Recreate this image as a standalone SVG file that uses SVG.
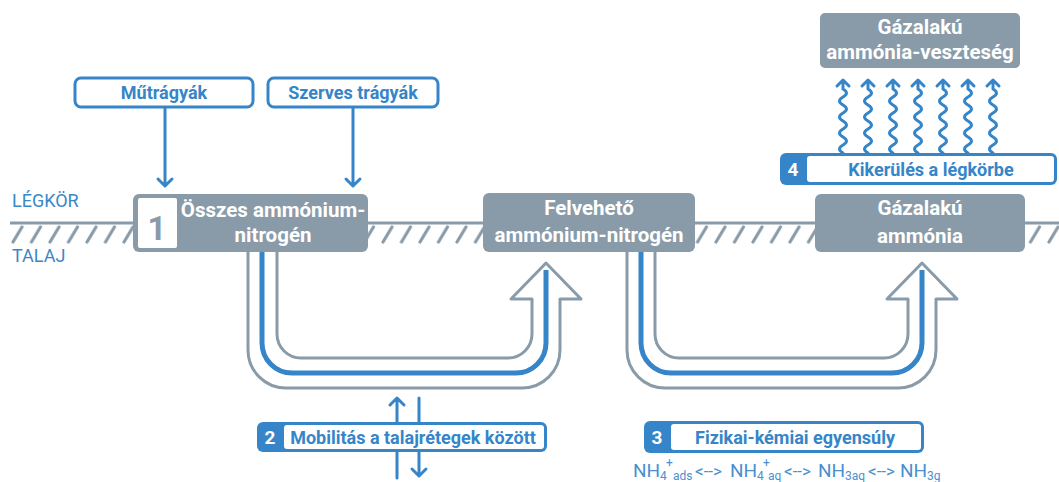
<svg xmlns="http://www.w3.org/2000/svg" width="1059" height="482" viewBox="0 0 1059 482">
<style>
.node{fill:#899ba8}
.nt{font-family:Roboto,"Liberation Sans",sans-serif;font-weight:700;font-size:20.5px;fill:#fff;text-anchor:middle}
.bt{font-family:Roboto,"Liberation Sans",sans-serif;font-weight:700;font-size:18px;fill:#3585c8;text-anchor:middle}
.num{font-family:Roboto,"Liberation Sans",sans-serif;font-weight:700;font-size:19px;fill:#fff;text-anchor:middle}
.lbl{font-family:Roboto,"Liberation Sans",sans-serif;font-weight:400;font-size:18px;fill:#3a87c8}
.ol{fill:none;stroke:#899ba8;stroke-width:3;stroke-linejoin:round;stroke-linecap:round}
.bl{fill:none;stroke:#3585c8;stroke-width:5}
.ar{fill:none;stroke:#3585c8;stroke-width:3;stroke-linecap:round;stroke-linejoin:round}
.fm{font-family:Roboto,"Liberation Sans",sans-serif;font-weight:400;font-size:19px;fill:#4a90d0}
.fa{font-family:Roboto,"Liberation Sans",sans-serif;font-weight:400;font-size:17px;fill:#4a90d0}
.fs{font-family:Roboto,"Liberation Sans",sans-serif;font-weight:400;font-size:12px;fill:#4a90d0}
</style>
<defs>
<pattern id="hatch" x="10" y="224" width="18.5" height="20" patternUnits="userSpaceOnUse">
<line x1="3" y1="18" x2="12" y2="3" stroke="#899ba8" stroke-width="3.2" stroke-linecap="round"/>
</pattern>
</defs>
<rect width="1059" height="482" fill="#fff"/>

<g id="ground">
<line x1="10" y1="223" x2="1059" y2="223" stroke="#899ba8" stroke-width="3"/>
<rect x="10" y="224" width="1049" height="20" fill="url(#hatch)"/>
<text class="lbl" x="12" y="207">LÉGKÖR</text>
<text class="lbl" x="12" y="262">TALAJ</text>
</g>

<g id="connectors">
<path class="ol" d="M248,251 V350 A38,38 0 0 0 286,388 H522 A38,38 0 0 0 560,350 V299 H581 L546,263 L511,299 H532 V334 A24,24 0 0 1 508,358 H301 A24,24 0 0 1 277,334 V251"/>
<path class="bl" d="M262,251 V343 A30,30 0 0 0 292,373 H516 A30,30 0 0 0 546,343 V270"/>
<path class="ol" d="M627,251 V350 A38,38 0 0 0 665,388 H898 A38,38 0 0 0 936,350 V299 H957 L922,263 L887,299 H908 V334 A24,24 0 0 1 884,358 H679 A24,24 0 0 1 655,334 V251"/>
<path class="bl" d="M641,251 V343 A30,30 0 0 0 671,373 H892 A30,30 0 0 0 922,343 V270"/>
<path class="ar" d="M165,108 V186 M158,179 L165,186 L172,179"/>
<path class="ar" d="M353,108 V186 M346,179 L353,186 L360,179"/>
<path class="ar" d="M397,478 V398 M390,405 L397,398 L404,405"/>
<path class="ar" d="M419,398 V476 M412,469 L419,476 L426,469"/>
<g id="waves">
<path class="ar" d="M843,153 q-7,-4 0,-8 q7,-4 0,-8 q-7,-4 0,-8 q7,-4 0,-8 q-7,-4 0,-8 q7,-4 0,-8 q-7,-4 0,-8 q7,-4 0,-8 V80 M837,86 L843,80 L849,86"/>
<path class="ar" d="M868,153 q-7,-4 0,-8 q7,-4 0,-8 q-7,-4 0,-8 q7,-4 0,-8 q-7,-4 0,-8 q7,-4 0,-8 q-7,-4 0,-8 q7,-4 0,-8 V80 M862,86 L868,80 L874,86"/>
<path class="ar" d="M893,153 q-7,-4 0,-8 q7,-4 0,-8 q-7,-4 0,-8 q7,-4 0,-8 q-7,-4 0,-8 q7,-4 0,-8 q-7,-4 0,-8 q7,-4 0,-8 V80 M887,86 L893,80 L899,86"/>
<path class="ar" d="M918,153 q-7,-4 0,-8 q7,-4 0,-8 q-7,-4 0,-8 q7,-4 0,-8 q-7,-4 0,-8 q7,-4 0,-8 q-7,-4 0,-8 q7,-4 0,-8 V80 M912,86 L918,80 L924,86"/>
<path class="ar" d="M943,153 q-7,-4 0,-8 q7,-4 0,-8 q-7,-4 0,-8 q7,-4 0,-8 q-7,-4 0,-8 q7,-4 0,-8 q-7,-4 0,-8 q7,-4 0,-8 V80 M937,86 L943,80 L949,86"/>
<path class="ar" d="M968,153 q-7,-4 0,-8 q7,-4 0,-8 q-7,-4 0,-8 q7,-4 0,-8 q-7,-4 0,-8 q7,-4 0,-8 q-7,-4 0,-8 q7,-4 0,-8 V80 M962,86 L968,80 L974,86"/>
<path class="ar" d="M993,153 q-7,-4 0,-8 q7,-4 0,-8 q-7,-4 0,-8 q7,-4 0,-8 q-7,-4 0,-8 q7,-4 0,-8 q-7,-4 0,-8 q7,-4 0,-8 V80 M987,86 L993,80 L999,86"/>
</g>
</g>

<g id="node-osszes">
<rect class="node" x="133" y="194" width="235" height="58" rx="6"/>
<rect x="138" y="198" width="39" height="50" rx="2" fill="#fff"/>
<text x="157" y="240" font-family="Roboto,'Liberation Sans',sans-serif" font-weight="700" font-size="33" fill="#899ba8" text-anchor="middle">1</text>
<text class="nt" x="273" y="217">Összes ammónium-</text>
<text class="nt" x="273" y="242">nitrogén</text>
</g>

<g id="node-felveheto">
<rect class="node" x="483" y="193" width="212" height="59" rx="6"/>
<text class="nt" x="589" y="215">Felvehető</text>
<text class="nt" x="589" y="242">ammónium-nitrogén</text>
</g>

<g id="node-gazalaku">
<rect class="node" x="815" y="194" width="210" height="58" rx="6"/>
<text class="nt" x="920" y="215">Gázalakú</text>
<text class="nt" x="920" y="243">ammónia</text>
</g>

<g id="node-veszteseg">
<rect class="node" x="820" y="13" width="200" height="55" rx="5"/>
<text class="nt" x="920" y="34">Gázalakú</text>
<text class="nt" x="920" y="59">ammónia-veszteség</text>
</g>

<g id="node-mutragyak">
<rect x="75" y="78" width="178" height="29" rx="6" fill="#fff" stroke="#3585c8" stroke-width="3"/>
<text class="bt" x="164" y="99">Műtrágyák</text>
</g>

<g id="node-szerves">
<rect x="268" y="78" width="170" height="29" rx="6" fill="#fff" stroke="#3585c8" stroke-width="3"/>
<text class="bt" x="353" y="99">Szerves trágyák</text>
</g>

<g id="node-kikerules">
<rect x="780" y="153" width="277" height="32" rx="6" fill="#3585c8"/>
<rect x="807" y="156" width="247" height="26" rx="3" fill="#fff"/>
<text class="num" x="793" y="176">4</text>
<text class="bt" x="931" y="176">Kikerülés a légkörbe</text>
</g>

<g id="node-mobilitas">
<rect x="257" y="422" width="290" height="30" rx="6" fill="#3585c8"/>
<rect x="284" y="425" width="260" height="24" rx="3" fill="#fff"/>
<text class="num" x="270" y="444">2</text>
<text class="bt" x="413" y="444">Mobilitás a talajrétegek között</text>
</g>

<g id="node-fizikai">
<rect x="644" y="421" width="280" height="32" rx="6" fill="#3585c8"/>
<rect x="671" y="424" width="250" height="26" rx="3" fill="#fff"/>
<text class="num" x="657" y="444">3</text>
<text class="bt" x="795" y="444">Fizikai-kémiai egyensúly</text>
</g>

<g id="formula">
<text class="fm" x="633" y="477">NH</text>
<text class="fs" x="660" y="480">4</text>
<text class="fs" x="666" y="467">+</text>
<text class="fs" x="673" y="480">ads</text>
<text class="fa" x="695" y="477">&lt;--&gt;</text>
<text class="fm" x="730" y="477">NH</text>
<text class="fs" x="757" y="480">4</text>
<text class="fs" x="763" y="467">+</text>
<text class="fs" x="768" y="480">aq</text>
<text class="fa" x="784" y="477">&lt;--&gt;</text>
<text class="fm" x="818" y="477">NH</text>
<text class="fs" x="845" y="480">3aq</text>
<text class="fa" x="868" y="477">&lt;--&gt;</text>
<text class="fm" x="900" y="477">NH</text>
<text class="fs" x="927" y="480">3g</text>
</g>
</svg>
